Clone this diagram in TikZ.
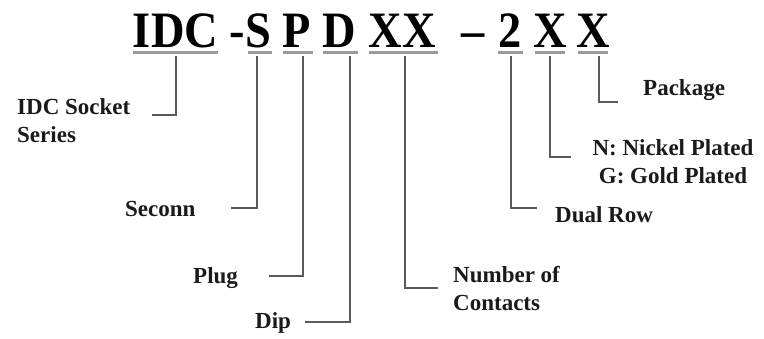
\documentclass[tikz,border=0pt]{standalone}
\usepackage{fontspec}
\setmainfont{Liberation Serif}
\definecolor{txt}{HTML}{1A1A1A}
\definecolor{leadgray}{HTML}{5A5A5A}
\definecolor{ulgray}{HTML}{9A9A9A}
\newcommand{\ttlfont}{\fontsize{51}{51}\selectfont\bfseries}
\newcommand{\lblfont}{\fontsize{23}{28}\selectfont\bfseries}
\begin{document}
\begin{tikzpicture}[x=1pt,y=-1pt,
  ttl/.style={font=\ttlfont, text=black, inner sep=0pt, anchor=base},
  ulline/.style={draw=ulgray, line width=3.5pt},
  lead/.style={draw=leadgray, line width=2.2pt},
  lbl/.style={font=\lblfont, text=txt, inner sep=0pt, anchor=base west}]
\useasboundingbox (0,0) rectangle (764,338);
% title
\node[ttl] (idc) at (175.5,47) {\scalebox{0.91}[1]{IDC}};
\node[ttl] (hy) at (237.5,47) {\scalebox{0.91}[1]{-}};
\node[ttl] (s) at (258,47) {\scalebox{0.91}[1]{S}};
\node[ttl] (p) at (296.5,47) {\scalebox{0.91}[1]{P}};
\node[ttl] (d) at (339.5,47) {\scalebox{0.91}[1]{D}};
\node[ttl] (xx) at (402.5,47) {\scalebox{0.91}[1]{XX}};
\node[ttl] (dash) at (473.5,47) {\scalebox{0.91}[1]{–}};
\node[ttl] (two) at (510,47) {\scalebox{0.91}[1]{2}};
\node[ttl] (xa) at (550,47) {\scalebox{0.91}[1]{X}};
\node[ttl] (xb) at (593,47) {\scalebox{0.91}[1]{X}};
% underlines
\draw[ulline] (133,52.5) -- (218,52.5);
\draw[ulline] (248,52.5) -- (272,52.5);
\draw[ulline] (283,52.5) -- (313,52.5);
\draw[ulline] (323,52.5) -- (358,52.5);
\draw[ulline] (369,52.5) -- (438,52.5);
\draw[ulline] (498,52.5) -- (523,52.5);
\draw[ulline] (535,52.5) -- (565,52.5);
\draw[ulline] (578,52.5) -- (608,52.5);
% labels (multi-line nodes: base = last line)
\node[lbl, align=left] (lidc) at (17,142) {IDC Socket\\Series};
\node[lbl] (lsec) at (125,216) {Seconn};
\node[lbl] (lplug) at (193,283) {Plug};
\node[lbl] (ldip) at (255,328) {Dip};
\node[lbl, align=left] (lnum) at (453,310) {Number of\\Contacts};
\node[lbl] (ldual) at (555,222) {Dual Row};
\node[lbl, align=center, anchor=base] (lplat) at (673,183) {N: Nickel Plated\\G: Gold Plated};
\node[lbl] (lpack) at (643,95) {Package};
% connector coordinates
\coordinate (tidc) at (176,56);  \coordinate (eidc) at (152,115);
\coordinate (ts) at (257,56);    \coordinate (es) at (231,208);
\coordinate (tp) at (303,56);    \coordinate (ep) at (269,276);
\coordinate (td) at (350,56);    \coordinate (ed) at (305,322);
\coordinate (txx) at (405,56);   \coordinate (exx) at (438,288);
\coordinate (ttwo) at (511,56);  \coordinate (etwo) at (537,208);
\coordinate (txa) at (550,56);   \coordinate (exa) at (571,157);
\coordinate (txb) at (599,56);   \coordinate (exb) at (618,102);
\draw[lead] (tidc) |- (eidc);
\draw[lead] (ts) |- (es);
\draw[lead] (tp) |- (ep);
\draw[lead] (td) |- (ed);
\draw[lead] (txx) |- (exx);
\draw[lead] (ttwo) |- (etwo);
\draw[lead] (txa) |- (exa);
\draw[lead] (txb) |- (exb);
\end{tikzpicture}
\end{document}
